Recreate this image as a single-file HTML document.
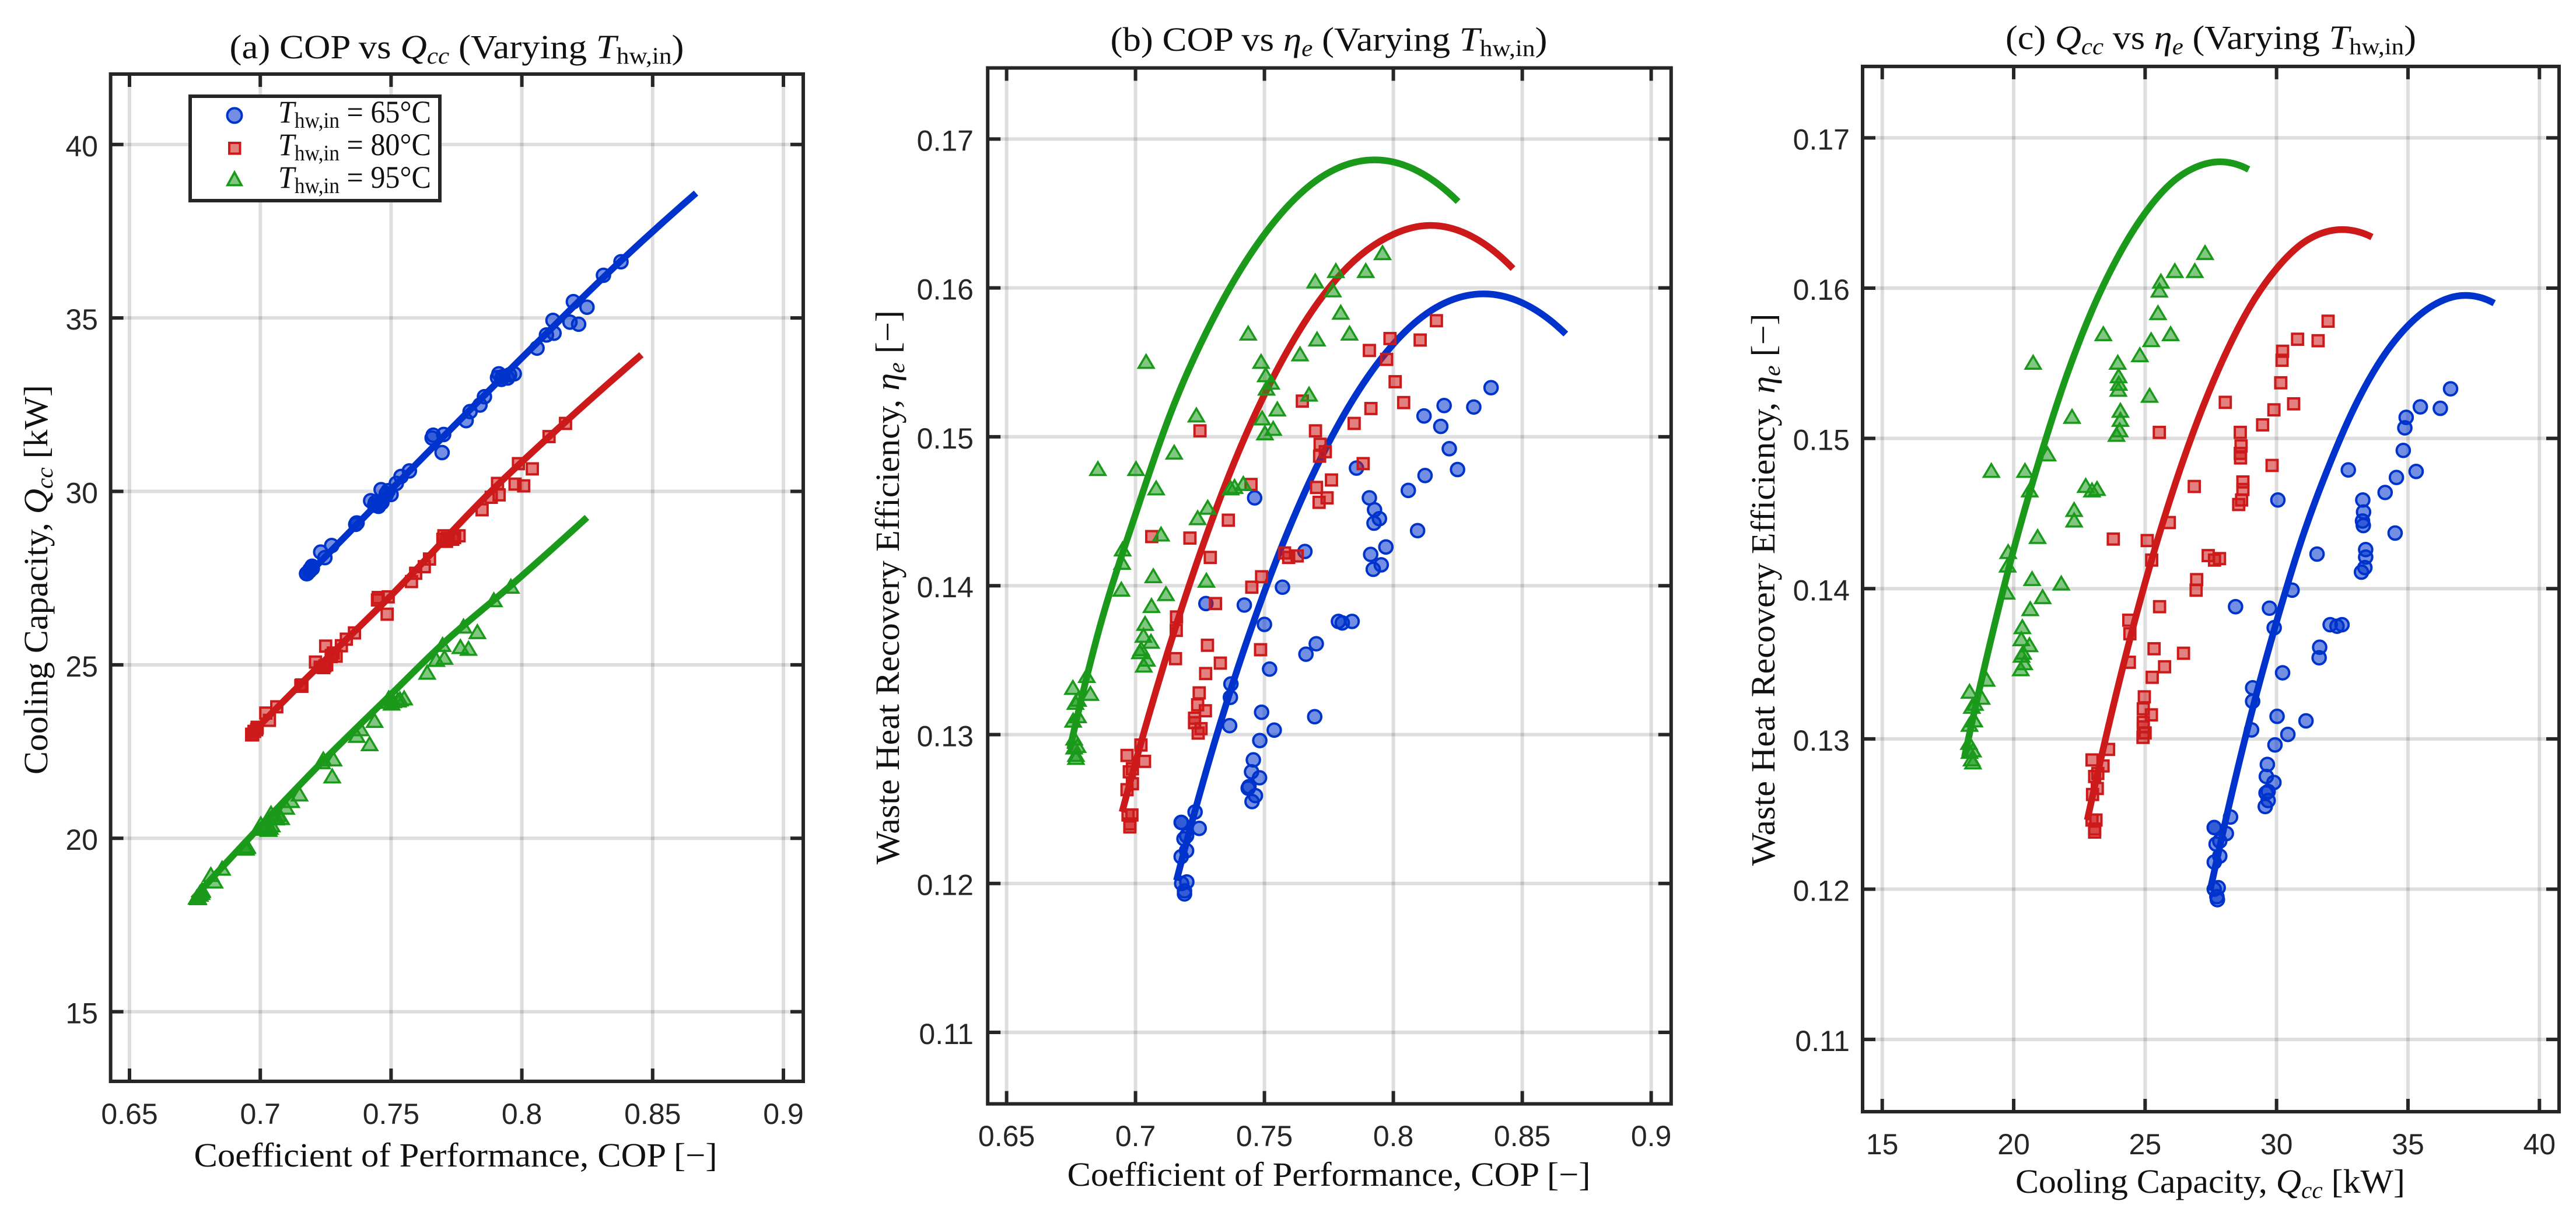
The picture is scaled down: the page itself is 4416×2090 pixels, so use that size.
<!DOCTYPE html>
<html lang="en">
<head>
<meta charset="utf-8">
<title>COP, cooling capacity and waste heat recovery efficiency</title>
<style>
html,body{margin:0;padding:0;background:#fff;}
svg{display:block;}
.serif{font-family:"Liberation Serif",serif;fill:#111;}
.tick{font-family:"Liberation Sans",sans-serif;font-size:50px;fill:#262626;}
.i{font-style:italic;}
</style>
</head>
<body>
<svg id="figure" xmlns="http://www.w3.org/2000/svg" width="4416" height="2090" viewBox="0 0 4416 2090">
  <rect x="0" y="0" width="4416" height="2090" fill="#fff"/>
  <g id="panel-a"></g>
  <g id="panel-b"></g>
  <g id="panel-c"></g>

  <text class="serif" x="783" y="100" font-size="58" text-anchor="middle" textLength="779" lengthAdjust="spacingAndGlyphs">(a) COP vs <tspan class="i">Q</tspan><tspan class="i" font-size="40" dy="9">cc</tspan><tspan dy="-9"> (Varying </tspan><tspan class="i">T</tspan><tspan font-size="40" dy="9">hw,in</tspan><tspan dy="-9">)</tspan></text>
  <text class="serif" x="2278" y="87" font-size="58" text-anchor="middle" textLength="749" lengthAdjust="spacingAndGlyphs">(b) COP vs <tspan class="i">η</tspan><tspan class="i" font-size="40" dy="9">e</tspan><tspan dy="-9"> (Varying </tspan><tspan class="i">T</tspan><tspan font-size="40" dy="9">hw,in</tspan><tspan dy="-9">)</tspan></text>
  <text class="serif" x="3790" y="84" font-size="58" text-anchor="middle" textLength="704" lengthAdjust="spacingAndGlyphs">(c) <tspan class="i">Q</tspan><tspan class="i" font-size="40" dy="9">cc</tspan><tspan dy="-9"> vs </tspan><tspan class="i">η</tspan><tspan class="i" font-size="40" dy="9">e</tspan><tspan dy="-9"> (Varying </tspan><tspan class="i">T</tspan><tspan font-size="40" dy="9">hw,in</tspan><tspan dy="-9">)</tspan></text>

  <text class="serif" x="781" y="2000" font-size="58" text-anchor="middle" textLength="897" lengthAdjust="spacingAndGlyphs">Coefficient of Performance, COP [−]</text>
  <text class="serif" x="2278" y="2033" font-size="58" text-anchor="middle" textLength="897" lengthAdjust="spacingAndGlyphs">Coefficient of Performance, COP [−]</text>
  <text class="serif" x="3789" y="2045" font-size="58" text-anchor="middle" textLength="668" lengthAdjust="spacingAndGlyphs">Cooling Capacity, <tspan class="i">Q</tspan><tspan class="i" font-size="40" dy="9">cc</tspan><tspan dy="-9"> [kW]</tspan></text>

  <text class="serif" transform="translate(81,994) rotate(-90)" font-size="58" text-anchor="middle" textLength="668" lengthAdjust="spacingAndGlyphs">Cooling Capacity, <tspan class="i">Q</tspan><tspan class="i" font-size="40" dy="9">cc</tspan><tspan dy="-9"> [kW]</tspan></text>
  <text class="serif" transform="translate(1541,1007) rotate(-90)" font-size="58" text-anchor="middle" textLength="950" lengthAdjust="spacingAndGlyphs">Waste Heat Recovery Efficiency, <tspan class="i">η</tspan><tspan class="i" font-size="40" dy="9">e</tspan><tspan dy="-9"> [−]</tspan></text>
  <text class="serif" transform="translate(3042,1011) rotate(-90)" font-size="58" text-anchor="middle" textLength="947" lengthAdjust="spacingAndGlyphs">Waste Heat Recovery Efficiency, <tspan class="i">η</tspan><tspan class="i" font-size="40" dy="9">e</tspan><tspan dy="-9"> [−]</tspan></text>

  <g>
    <rect x="326" y="165" width="428" height="179" fill="#fff" stroke="#262626" stroke-width="6"/>
    <g>
      <circle cx="402" cy="198" r="12.5" fill="rgba(0,51,204,.55)" stroke="#0033cc" stroke-width="4"/>
      <text class="serif" x="477" y="210" font-size="54" textLength="262" lengthAdjust="spacingAndGlyphs"><tspan class="i">T</tspan><tspan font-size="38" dy="9">hw,in</tspan><tspan dy="-9"> = 65°C</tspan></text>
    </g>
    <g>
      <rect x="393" y="245" width="18.5" height="18.5" fill="rgba(204,26,26,.55)" stroke="#cc1a1a" stroke-width="4"/>
      <text class="serif" x="477" y="266" font-size="54" textLength="262" lengthAdjust="spacingAndGlyphs"><tspan class="i">T</tspan><tspan font-size="38" dy="9">hw,in</tspan><tspan dy="-9"> = 80°C</tspan></text>
    </g>
    <g>
      <path d="M402 295.5 L414 317.5 L390 317.5 Z" fill="rgba(26,153,26,.55)" stroke="#1a991a" stroke-width="3.8"/>
      <text class="serif" x="477" y="322" font-size="54" textLength="262" lengthAdjust="spacingAndGlyphs"><tspan class="i">T</tspan><tspan font-size="38" dy="9">hw,in</tspan><tspan dy="-9"> = 95°C</tspan></text>
    </g>
  </g>
</svg>

<script>
// Tick values and labels
const copTicks = [0.65, 0.7, 0.75, 0.8, 0.85, 0.9];
const copTickLabels = ['0.65', '0.7', '0.75', '0.8', '0.85', '0.9'];
const capTicks = [15, 20, 25, 30, 35, 40];
const capTickLabels = ['15', '20', '25', '30', '35', '40'];
const etaTicks = [0.11, 0.12, 0.13, 0.14, 0.15, 0.16, 0.17];
const etaTickLabels = ['0.11', '0.12', '0.13', '0.14', '0.15', '0.16', '0.17'];

// Measured points, T_hw,in = 65 C
const cop65 = [.8379,.8312,.8197,.8119,.8184,.8217,.8249,.8123,.8058,.8094,.7857,.7462,.7907,.7927,.7946,.7925,.7971,.7912,.7657,.7953,.7922,.7570,.7273,.7422,.7787,.7840,.7802,.7500,.7701,.7661,.7520,.7370,.7368,.7489,.7695,.7365,.7538,.7482,.7457,.7450,.7481,.7440,.7437,.7465,.7452,.7231,.7177,.7178,.7247,.7188,.7198,.7198,.7177,.7199,.7179,.7190,.7190];
const q65 = [36.62,36.23,35.47,34.93,34.88,34.82,35.31,34.56,34.13,34.51,32.73,30.05,33.28,33.31,33.27,33.30,33.39,33.39,31.54,33.36,33.23,30.59,28.44,29.73,32.04,32.49,32.30,29.91,31.64,31.62,30.23,29.09,29.09,30.02,31.12,29.05,30.43,29.94,29.65,29.61,29.90,29.68,29.60,29.68,29.57,28.25,27.63,27.63,28.09,27.70,27.84,27.84,27.63,27.78,27.63,27.73,27.75];
const eta65 = [.1533,.1520,.1521,.1514,.1507,.1492,.1478,.1474,.1464,.1437,.1479,.1459,.1459,.1451,.1445,.1442,.1426,.1421,.1423,.1414,.1411,.1399,.1388,.1387,.1376,.1376,.1375,.1374,.1361,.1354,.1344,.1334,.1325,.1315,.1312,.1306,.1303,.1296,.1283,.1275,.1271,.1265,.1264,.1259,.1255,.1248,.1241,.1241,.1237,.1230,.1232,.1222,.1218,.1201,.1200,.1195,.1193];

// Measured points, T_hw,in = 80 C
const cop80 = [.8167,.8104,.7987,.7907,.7974,.8007,.8040,.7913,.7848,.7647,.7698,.7716,.7736,.7714,.7883,.7760,.7702,.7743,.7712,.7250,.7448,.7360,.7063,.7211,.7290,.7578,.7594,.7627,.7489,.7451,.7310,.7159,.7158,.7279,.7485,.7155,.7329,.7272,.7247,.7241,.7271,.7229,.7229,.7254,.7243,.7021,.6967,.7035,.6988,.6976,.6988,.6967,.6986,.6971,.6978,.6978];
const q80 = [31.96,31.58,30.80,30.23,30.21,30.16,30.65,29.90,29.47,28.05,28.62,28.65,28.62,28.63,29.83,28.72,28.72,28.67,28.56,25.54,26.87,25.92,23.79,25.08,25.25,27.40,27.64,27.83,26.96,26.94,25.55,24.38,24.42,25.34,26.46,24.40,25.74,25.27,24.97,24.93,25.24,24.93,24.93,25.00,24.92,23.61,22.98,23.40,23.20,23.08,23.18,23.00,23.13,22.98,23.08,23.08];
const eta80 = [.1578,.1565,.1566,.1558,.1552,.1537,.1523,.1519,.1509,.1524,.1504,.1495,.1490,.1487,.1482,.1471,.1466,.1459,.1456,.1504,.1468,.1444,.1433,.1432,.1419,.1422,.1419,.1420,.1406,.1399,.1388,.1379,.1370,.1360,.1357,.1351,.1348,.1341,.1328,.1320,.1316,.1311,.1308,.1304,.1301,.1293,.1286,.1282,.1277,.1275,.1267,.1263,.1246,.1246,.1240,.1238];

// Measured points, T_hw,in = 95 C
const cop95 = [.7958,.7777,.7893,.7697,.7765,.7796,.7830,.7704,.7437,.7638,.7041,.7487,.7505,.7526,.7508,.7673,.7236,.7550,.7491,.7534,.7502,.7150,.6854,.7002,.7080,.7369,.7384,.7418,.7280,.7241,.7099,.6950,.6948,.6945,.7069,.7275,.7118,.7062,.7037,.7031,.7060,.7022,.7017,.7044,.7032,.6811,.6757,.6825,.6777,.6767,.6777,.6758,.6762,.6775,.6762,.6769,.6769];
const q95 = [27.28,26.13,26.89,25.60,25.54,25.49,25.97,25.23,23.41,24.80,20.74,23.96,23.99,24.00,23.98,25.17,22.22,24.06,24.06,24.03,23.91,21.29,19.15,20.43,20.61,22.98,23.17,22.74,22.30,22.30,20.91,19.79,19.77,19.73,20.70,21.81,21.10,20.63,20.33,20.29,20.60,20.36,20.30,20.40,20.27,18.97,18.32,18.78,18.53,18.41,18.50,18.32,18.30,18.45,18.32,18.40,18.45];
const eta95 = [.1624,.1612,.1612,.1605,.1599,.1584,.1570,.1566,.1570,.1556,.1551,.1551,.1542,.1537,.1533,.1529,.1515,.1519,.1513,.1506,.1503,.1490,.1479,.1479,.1466,.1466,.1467,.1469,.1453,.1446,.1435,.1425,.1416,.1398,.1407,.1404,.1395,.1387,.1375,.1367,.1363,.1358,.1356,.1351,.1347,.1340,.1332,.1328,.1324,.1322,.1313,.1310,.1298,.1293,.1292,.1287,.1285];

// Fit curves, panel a
const fitACop65 = [.7175,.75,.80,.8379,.8666];
const fitAQ65 = [27.55,30.05,33.85,36.65,38.6];
const fitACop80 = [.6957,.7155,.75,.7902,.8166,.8457];
const fitAQ80 = [22.95,24.45,27.0,30.15,32.0,33.94];
const fitACop95 = [.6743,.7007,.7243,.75,.7697,.796,.8249];
const fitAQ95 = [18.25,20.4,22.25,24.15,25.6,27.3,29.25];

// Fit curves, panel b
const fitBCop65 = [.7159,.73,.75,.77,.79,.81,.8351,.85,.8669];
const fitBEta65 = [.1202,.1291,.1396,.1479,.1540,.1579,.1596,.1590,.1569];
const fitBCop80 = [.6948,.705,.72,.74,.76,.78,.80,.8142,.83,.8464];
const fitBEta80 = [.1248,.1312,.1396,.1490,.1561,.1610,.1636,.1642,.1635,.1613];
const fitBCop95 = [.6745,.685,.70,.715,.73,.75,.77,.793,.81,.8251];
const fitBEta95 = [.1290,.1365,.1448,.1522,.1579,.1636,.1672,.1686,.1678,.1658];

// Fit curves, panel c
const fitCQ65 = [27.47,28,29,30,31,32,33,34,35,36,37,38.28];
const fitCEta65 = [.1199,.1241,.1314,.1378,.1435,.1482,.1522,.1553,.1575,.1589,.1595,.1590];
const fitCQ80 = [22.8,24,25,26,27,28,29,30,31,32,33,33.63];
const fitCEta80 = [.1246,.1337,.1404,.1462,.1512,.1554,.1588,.1613,.1630,.1638,.1638,.1634];
const fitCQ95 = [18.13,19,20,21,22,23,24,25,26,27,28,28.94];
const fitCEta95 = [.1288,.1356,.1426,.1487,.1541,.1586,.1622,.1650,.1670,.1681,.1684,.1679];

const SVGNS = 'http://www.w3.org/2000/svg';
const BLUE = '#0033cc', RED = '#cc1a1a', GREEN = '#1a991a';
const BLUE_FILL = 'rgba(0,51,204,.55)', RED_FILL = 'rgba(204,26,26,.55)', GREEN_FILL = 'rgba(26,153,26,.55)';

function linear(v0, p0, v1, p1) {
  return function (v) { return p0 + (v - v0) * (p1 - p0) / (v1 - v0); };
}

// Axis functions
const xA = linear(0.65, 222, 0.9, 1343);
const yA = linear(15, 1734.6, 40, 247.8);
const xB = linear(0.65, 1725.6, 0.9, 2830.6);
const yB = linear(0.11, 1770, 0.17, 238.4);
const xC = linear(15, 3226.7, 40, 4353.3);
const yC = linear(0.11, 1782.1, 0.17, 236.4);

function make(tag, parent) {
  const el = document.createElementNS(SVGNS, tag);
  parent.appendChild(el);
  return el;
}

function line(parent, x1, y1, x2, y2, stroke, width) {
  const el = make('line', parent);
  el.setAttribute('x1', x1);
  el.setAttribute('y1', y1);
  el.setAttribute('x2', x2);
  el.setAttribute('y2', y2);
  el.setAttribute('stroke', stroke);
  el.setAttribute('stroke-width', width);
  return el;
}

function drawFrame(g, box, xs, ys, xTicks, xLabels, yTicks, yLabels, xLabelY, yLabelX) {
  const GRID = 'rgba(0,0,0,.13)';
  xTicks.forEach(function (t, i) {
    const gl = line(g, xs(t), box.top, xs(t), box.bottom, GRID, 6);
    
    
    const lb = make('text', g);
    
    
    lb.setAttribute('class', 'tick');
    lb.setAttribute('x', xs(t));
    lb.setAttribute('y', xLabelY);
    lb.setAttribute('text-anchor', 'middle');
    lb.textContent = xLabels[i];
  });
  yTicks.forEach(function (t, i) {
    const gl = line(g, box.left, ys(t), box.right, ys(t), GRID, 6);
    
    
    const lb = make('text', g);
    
    
    lb.setAttribute('class', 'tick');
    lb.setAttribute('x', yLabelX);
    lb.setAttribute('y', ys(t) + 20);
    lb.setAttribute('text-anchor', 'end');
    lb.textContent = yLabels[i];
  });
}

function drawFrameTop(g, box, xs, ys, xTicks, yTicks) {
  const INK = '#262626', LEN = 22;
  xTicks.forEach(function (t) {
    const a = line(g, xs(t), box.bottom, xs(t), box.bottom - LEN, INK, 6);
    
    
    const b = line(g, xs(t), box.top, xs(t), box.top + LEN, INK, 6);
    
    
  });
  yTicks.forEach(function (t) {
    const a = line(g, box.left, ys(t), box.left + LEN, ys(t), INK, 6);
    
    
    const b = line(g, box.right, ys(t), box.right - LEN, ys(t), INK, 6);
    
    
  });
  const r = make('rect', g);
  
  
  r.setAttribute('x', box.left);
  r.setAttribute('y', box.top);
  r.setAttribute('width', box.right - box.left);
  r.setAttribute('height', box.bottom - box.top);
  r.setAttribute('fill', 'none');
  r.setAttribute('stroke', INK);
  r.setAttribute('stroke-width', 6);
}

function drawCircles(g, xv, yv, xs, ys) {
  xv.forEach(function (v, i) {
    const c = make('circle', g);
    
    
    c.setAttribute('cx', xs(v));
    c.setAttribute('cy', ys(yv[i]));
    c.setAttribute('r', 11.3);
    c.setAttribute('fill', BLUE_FILL);
    c.setAttribute('stroke', BLUE);
    c.setAttribute('stroke-width', 4);
  });
}

function drawSquares(g, xv, yv, xs, ys) {
  xv.forEach(function (v, i) {
    const c = make('rect', g);
    
    
    c.setAttribute('x', xs(v) - 9.4);
    c.setAttribute('y', ys(yv[i]) - 9.4);
    c.setAttribute('width', 18.8);
    c.setAttribute('height', 18.8);
    c.setAttribute('fill', RED_FILL);
    c.setAttribute('stroke', RED);
    c.setAttribute('stroke-width', 4);
  });
}

function drawTriangles(g, xv, yv, xs, ys) {
  xv.forEach(function (v, i) {
    const px = xs(v), py = ys(yv[i]);
    const c = make('path', g);
    
    
    c.setAttribute('d', 'M' + px + ' ' + (py - 10.1) + 'L' + (px + 13) + ' ' + (py + 11.9) + 'L' + (px - 13) + ' ' + (py + 11.9) + 'Z');
    c.setAttribute('fill', GREEN_FILL);
    c.setAttribute('stroke', GREEN);
    c.setAttribute('stroke-width', 3.6);
  });
}

// Hermite spline through the read knots, parametrised on horizontal position
function drawFit(g, xv, yv, xs, ys, color, name) {
  const px = xv.map(xs), py = yv.map(ys), n = px.length;
  const m = [];
  for (let i = 1; i < n - 1; i++) {
    const h0 = px[i] - px[i - 1], h1 = px[i + 1] - px[i];
    const d0 = (py[i] - py[i - 1]) / h0, d1 = (py[i + 1] - py[i]) / h1;
    m[i] = (d0 * h1 + d1 * h0) / (h0 + h1);
  }
  m[0] = 2 * (py[1] - py[0]) / (px[1] - px[0]) - m[1];
  m[n - 1] = 2 * (py[n - 1] - py[n - 2]) / (px[n - 1] - px[n - 2]) - m[n - 2];
  let d = 'M' + px[0] + ' ' + py[0];
  for (let i = 0; i < n - 1; i++) {
    const h = (px[i + 1] - px[i]) / 3;
    d += 'C' + (px[i] + h) + ' ' + (py[i] + m[i] * h) + ' ' + (px[i + 1] - h) + ' ' + (py[i + 1] - m[i + 1] * h) + ' ' + px[i + 1] + ' ' + py[i + 1];
  }
  const el = make('path', g);
  
  
  el.setAttribute('d', d);
  el.setAttribute('fill', 'none');
  el.setAttribute('stroke', color);
  el.setAttribute('stroke-width', 11.5);
}

// Panel a
(function () {
  const g = document.getElementById('panel-a');
  const box = { left: 189.6, right: 1377, top: 127, bottom: 1854 };
  drawFrame(g, box, xA, yA, copTicks, copTickLabels, capTicks, capTickLabels, 1927, 168);
  drawCircles(g, cop65, q65, xA, yA);
  drawFit(g, fitACop65, fitAQ65, xA, yA, BLUE, 'fit-line-65');
  drawSquares(g, cop80, q80, xA, yA);
  drawFit(g, fitACop80, fitAQ80, xA, yA, RED, 'fit-line-80');
  drawTriangles(g, cop95, q95, xA, yA);
  drawFit(g, fitACop95, fitAQ95, xA, yA, GREEN, 'fit-line-95');
  drawFrameTop(g, box, xA, yA, copTicks, capTicks);
})();

// Panel b
(function () {
  const g = document.getElementById('panel-b');
  const box = { left: 1693.2, right: 2864.8, top: 116.5, bottom: 1892.6 };
  drawFrame(g, box, xB, yB, copTicks, copTickLabels, etaTicks, etaTickLabels, 1965, 1669);
  drawCircles(g, cop65, eta65, xB, yB);
  drawFit(g, fitBCop65, fitBEta65, xB, yB, BLUE, 'fit-curve-65');
  drawSquares(g, cop80, eta80, xB, yB);
  drawFit(g, fitBCop80, fitBEta80, xB, yB, RED, 'fit-curve-80');
  drawTriangles(g, cop95, eta95, xB, yB);
  drawFit(g, fitBCop95, fitBEta95, xB, yB, GREEN, 'fit-curve-95');
  drawFrameTop(g, box, xB, yB, copTicks, etaTicks);
})();

// Panel c
(function () {
  const g = document.getElementById('panel-c');
  const box = { left: 3193, right: 4387, top: 113.9, bottom: 1906 };
  drawFrame(g, box, xC, yC, capTicks, capTickLabels, etaTicks, etaTickLabels, 1979, 3171);
  drawCircles(g, q65, eta65, xC, yC);
  drawFit(g, fitCQ65, fitCEta65, xC, yC, BLUE, 'fit-curve-65');
  drawSquares(g, q80, eta80, xC, yC);
  drawFit(g, fitCQ80, fitCEta80, xC, yC, RED, 'fit-curve-80');
  drawTriangles(g, q95, eta95, xC, yC);
  drawFit(g, fitCQ95, fitCEta95, xC, yC, GREEN, 'fit-curve-95');
  drawFrameTop(g, box, xC, yC, capTicks, etaTicks);
})();
</script>
</body>
</html>
